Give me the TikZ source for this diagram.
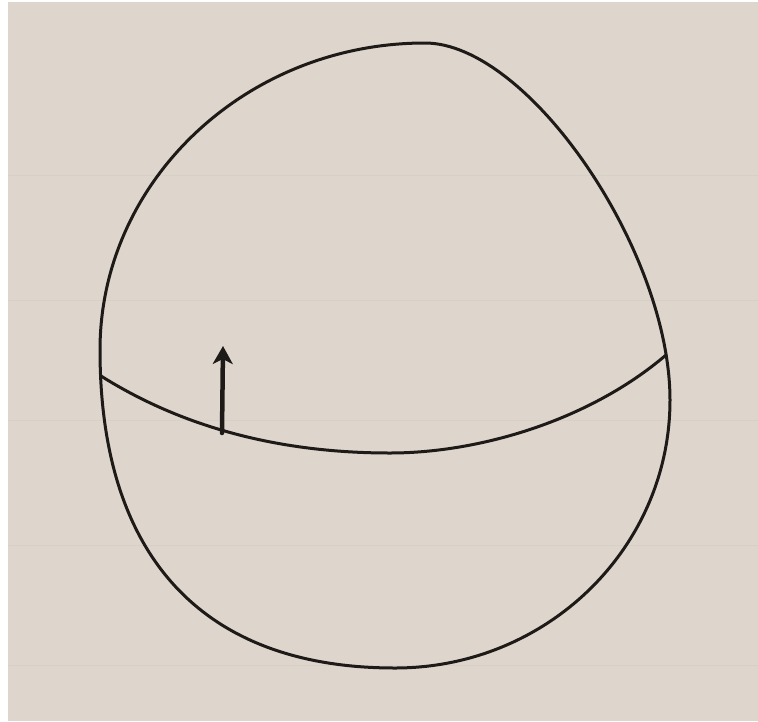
\documentclass[tikz,border=0pt]{standalone}
\usetikzlibrary{arrows.meta}
\definecolor{paper}{RGB}{222,214,205}
\definecolor{ink}{RGB}{30,26,24}

\begin{document}
\begin{tikzpicture}[
 x=1pt,y=-1pt,
 pen/.style={draw=ink,line width=3pt,line cap=round,line join=round},
 vecarrow/.style={pen,line width=4.5pt,-{Stealth[length=18pt,width=20pt,inset=5pt]}}
]
\useasboundingbox (0,0) rectangle (758,721);
\fill[white] (0,0) rectangle (758,721);
\fill[paper] (8,2) rectangle (758,721);
% faint ruling of the paper
\foreach \y in {175,300,420,545,665}
  \draw[paper!92!black,line width=0.8pt,opacity=0.35] (8,\y) -- (758,\y);
% sphere outline
\coordinate (top) at (425,43);
\coordinate (right) at (670,400);
\coordinate (bottom) at (395,668);
\coordinate (left) at (100,350);
\draw[pen] (top) .. controls (528,43) and (670,250) .. (right)
  .. controls (670,548) and (547,668) .. (bottom)
  .. controls (203,668) and (100,557) .. (left)
  .. controls (100,181) and (246,43) .. (top) -- cycle;
% equator
\coordinate (eqw) at (101,376);
\coordinate (eqs) at (390,453);
\coordinate (eqe) at (666,355);
\draw[pen] (eqw) .. controls (190,432) and (290,453) .. (eqs)
  .. controls (480,453) and (590,420) .. (eqe);
% vector on the equator
\coordinate (base) at (222,433);
\coordinate (tip) at (223,346);
\draw[vecarrow] (base) -- (tip);
\end{tikzpicture}
\end{document}
